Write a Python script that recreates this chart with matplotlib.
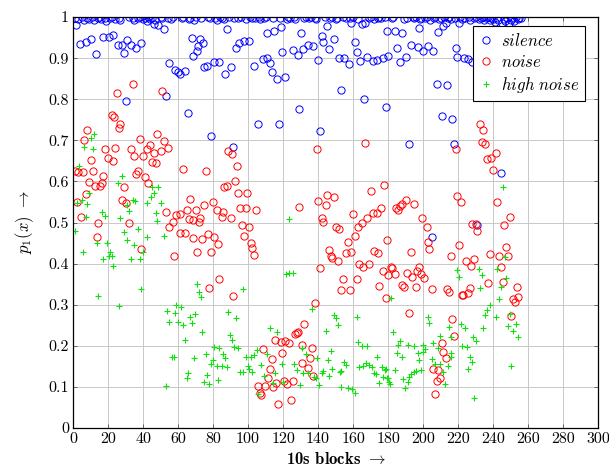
import numpy as np
import matplotlib
matplotlib.use("Agg")
import matplotlib.pyplot as plt

plt.rcParams['font.family'] = 'serif'
plt.rcParams['font.serif'] = ['cmr10', 'DejaVu Serif']
plt.rcParams['mathtext.fontset'] = 'cm'
plt.rcParams['axes.unicode_minus'] = False

# silence: points sitting on the top row (p ~ 1)
silence_top = [(1, 0.998), (3, 0.995), (5, 1.0), (6, 0.993), (8, 0.999), (9, 0.996), (11, 1.0), (12, 0.992),
               (14, 0.998), (15, 1.0), (16, 0.995), (18, 0.999), (19, 0.99), (21, 0.997), (22, 1.0), (24, 0.996),
               (26, 0.999), (27, 0.993), (32, 1.0), (34, 0.997), (35, 0.992), (37, 0.999), (38, 1.0), (40, 0.995),
               (41, 0.998), (42, 0.99), (43, 1.0), (44, 0.996), (45, 0.999), (47, 0.993), (50, 1.0), (51, 0.997),
               (54, 0.999), (56, 0.995), (57, 1.0), (62, 0.998), (63, 1.0), (66, 0.996), (67, 0.999), (69, 0.993),
               (70, 1.0), (73, 0.998), (77, 1.0), (78, 0.997), (81, 0.999), (82, 0.994), (84, 1.0), (85, 0.998),
               (86, 0.995), (89, 1.0), (92, 0.998), (94, 0.999), (96, 1.0), (99, 0.996), (101, 1.0), (102, 0.997),
               (104, 0.999), (106, 1.0), (107, 0.996), (109, 0.999), (110, 1.0), (114, 0.997), (118, 0.999),
               (122, 0.996), (123, 1.0), (124, 0.998), (126, 1.0), (127, 0.995), (132, 0.999), (133, 1.0),
               (135, 0.997), (136, 1.0), (138, 0.999), (139, 0.995), (144, 1.0), (147, 0.998), (148, 1.0),
               (150, 0.996), (151, 0.999), (154, 1.0), (156, 0.997), (158, 0.999), (160, 1.0), (163, 0.995),
               (169, 0.998), (170, 1.0), (172, 0.996), (174, 0.999), (175, 1.0), (176, 0.997), (178, 1.0),
               (182, 0.998), (183, 1.0), (189, 0.996), (191, 0.999), (194, 1.0), (195, 0.997), (196, 1.0),
               (198, 0.995), (199, 0.999), (201, 0.998), (202, 1.0), (204, 0.993), (206, 0.999), (207, 1.0),
               (209, 0.996), (210, 0.999), (212, 1.0), (214, 0.997), (215, 1.0), (216, 0.995), (218, 0.999),
               (221, 1.0), (222, 0.996), (224, 0.998), (226, 1.0), (227, 0.993), (229, 0.999), (230, 1.0),
               (232, 0.996), (233, 0.999), (234, 1.0), (235, 0.994), (236, 0.998), (237, 1.0), (238, 0.992),
               (239, 0.999), (240, 0.996), (241, 0.988), (242, 0.999), (243, 0.993), (245, 0.986), (246, 0.996),
               (247, 0.99), (248, 0.999), (249, 0.985), (250, 0.994), (251, 0.998), (252, 0.99), (253, 1.0),
               (254, 0.996), (255, 0.999), (256, 0.997)]

# silence: points below the top row
silence_low = [(1.7, 0.98), (4, 0.934), (7.4, 0.939), (10.3, 0.946), (13, 0.91), (17, 0.951), (20.6, 0.951),
               (23, 0.956), (25.7, 0.932), (28, 0.932), (29, 0.912), (31, 0.944), (33, 0.932), (36, 0.925),
               (39, 0.937), (46, 0.983), (48.6, 0.98), (52, 0.971), (55, 0.888), (58, 0.871), (60, 0.866),
               (61, 0.861), (64, 0.869), (30, 0.796), (53, 0.808),
               (88, 0.971), (119, 0.976), (111, 0.961), (115, 0.966), (68, 0.949), (72.6, 0.946), (74, 0.937),
               (71.4, 0.93), (71, 0.917), (68.6, 0.905), (93, 0.925), (95, 0.937), (97.7, 0.942), (100.6, 0.942),
               (119.4, 0.915), (75, 0.878), (76.6, 0.881), (80.6, 0.89), (83.4, 0.89), (87, 0.861), (90, 0.878),
               (103.4, 0.881), (108.6, 0.898), (111, 0.9), (112.6, 0.888), (113.7, 0.866), (116.6, 0.849),
               (121, 0.855), (65.7, 0.766), (79, 0.71), (105.7, 0.74), (117.7, 0.74), (91.4, 0.684),
               (145, 0.978), (159, 0.985), (165, 0.983), (167, 0.985), (179.4, 0.966), (130, 0.961), (142, 0.954),
               (143, 0.939), (149, 0.946), (161, 0.939), (134, 0.932), (137, 0.93), (131.4, 0.922), (125.7, 0.92),
               (128.6, 0.908), (146, 0.922), (162, 0.915), (140, 0.895), (152, 0.9), (155, 0.9), (157.7, 0.886),
               (164, 0.893), (168, 0.903), (171.4, 0.893), (173.7, 0.895), (177, 0.9), (180, 0.905), (153, 0.822),
               (166, 0.8), (129, 0.776), (179, 0.781), (141, 0.723),
               (184, 0.966), (188, 0.961), (197.7, 0.973), (208.6, 0.963), (211.4, 0.978), (213, 0.985),
               (220.6, 0.985), (193, 0.932), (197, 0.927), (200, 0.917), (203, 0.929), (205.7, 0.917), (185, 0.925),
               (190, 0.903), (186.9, 0.89), (219, 0.925), (219.4, 0.903), (223.4, 0.9), (225.7, 0.898), (228, 0.89),
               (208, 0.837), (213.7, 0.835), (211, 0.759), (216.6, 0.752), (192, 0.691), (217.7, 0.691),
               (205, 0.465), (231, 0.494), (244.6, 0.62)]

noise = [(34, 0.837), (25, 0.815), (51, 0.82), (22, 0.762), (23.4, 0.757), (27, 0.74), (26, 0.73), (8, 0.725),
         (6, 0.70), (38, 0.703), (48, 0.715), (52, 0.698), (44, 0.689), (42, 0.679), (54, 0.681), (18, 0.68),
         (24, 0.681), (33, 0.679), (35, 0.662), (40, 0.662), (46, 0.669), (50, 0.674), (10, 0.652), (20, 0.657),
         (23, 0.65), (45, 0.647), (47.5, 0.645), (1, 0.625), (3, 0.622), (5.5, 0.622), (11.5, 0.625), (17, 0.613),
         (37, 0.625), (36, 0.618), (41, 0.611), (9, 0.598), (12.5, 0.59), (15.4, 0.588), (16.5, 0.596), (43, 0.596),
         (29, 0.586), (7.5, 0.569), (2.4, 0.55), (28, 0.555), (30, 0.547), (53, 0.525), (4.4, 0.513), (59, 0.518),
         (61, 0.52), (14, 0.499), (32, 0.499), (55, 0.489), (57, 0.501), (13.5, 0.465), (39, 0.436), (57.7, 0.418),
         (61, 0.474),
         (88.6, 0.674), (91, 0.667), (93.7, 0.637), (63, 0.63), (76, 0.625), (92.6, 0.601), (88, 0.589),
         (86.4, 0.586), (94.3, 0.572), (99.4, 0.572), (67, 0.557), (80, 0.55), (75, 0.543), (65, 0.53), (70, 0.53),
         (82, 0.53), (85.7, 0.525), (95.4, 0.535), (99, 0.535), (104.6, 0.53), (66, 0.508), (72.6, 0.511),
         (85, 0.513), (90, 0.511), (68.6, 0.506), (72, 0.501), (96.6, 0.494), (100.6, 0.489), (97.7, 0.467),
         (64, 0.474), (68.6, 0.462), (73.7, 0.46), (77, 0.472), (80.6, 0.465), (83, 0.448), (101.7, 0.45),
         (102.3, 0.438), (103.4, 0.421), (71, 0.428), (79, 0.428), (83.4, 0.363), (77.7, 0.341), (91.4, 0.321),
         (108.6, 0.192), (113.7, 0.168), (112.6, 0.144), (115.4, 0.214), (119, 0.209), (121, 0.212),
         (119.4, 0.182), (105.7, 0.102), (107.4, 0.08), (106.9, 0.085), (109.7, 0.102), (111.4, 0.122),
         (114.3, 0.1), (116, 0.11), (117, 0.058), (120.5, 0.115),
         (139.4, 0.679), (167, 0.693), (177.7, 0.591), (170, 0.577), (145, 0.567), (149, 0.562), (140, 0.552),
         (144.6, 0.543), (129, 0.538), (160, 0.521), (171.4, 0.523), (173.7, 0.523), (176, 0.535), (168, 0.511),
         (142, 0.511), (143, 0.501), (150, 0.489), (152, 0.484), (163, 0.489), (165, 0.499), (161, 0.467),
         (157, 0.453), (179.4, 0.457), (146, 0.433), (147.4, 0.418), (148, 0.414), (151.4, 0.406), (156, 0.426),
         (159, 0.428), (172, 0.431), (174, 0.426), (141, 0.389), (163.4, 0.399), (165.7, 0.392), (169, 0.399),
         (177, 0.382), (180, 0.372), (154, 0.363), (162, 0.363), (175, 0.345), (153, 0.336), (158, 0.336),
         (179, 0.316), (138, 0.304), (132, 0.253), (127, 0.229), (128, 0.231), (128.6, 0.233), (123.4, 0.207),
         (131, 0.202), (136.6, 0.195), (135.4, 0.17), (131, 0.158), (134, 0.146), (137, 0.127), (122, 0.107),
         (125.7, 0.114), (124.6, 0.068),
         (219, 0.679), (232.6, 0.74), (234, 0.725), (233.7, 0.696), (235.4, 0.691), (236.6, 0.654),
         (239, 0.657), (240, 0.628), (219.4, 0.564), (221.7, 0.55), (190, 0.555), (188, 0.545), (186.9, 0.54),
         (195, 0.545), (184.6, 0.535), (185.7, 0.53), (199.4, 0.511), (202, 0.489), (230, 0.496), (230.9, 0.479),
         (228, 0.496), (203, 0.453), (203.4, 0.436), (220.6, 0.445), (193, 0.428), (216, 0.418), (238.3, 0.423),
         (224.6, 0.406), (229, 0.411), (227.4, 0.394), (181.7, 0.392), (182.3, 0.389), (197.7, 0.392),
         (196.6, 0.382), (184, 0.375), (190.9, 0.377), (198.9, 0.375), (193.7, 0.367), (200.6, 0.365),
         (237, 0.353), (188, 0.348), (189, 0.343), (196, 0.343), (205, 0.338), (213.7, 0.338), (214.9, 0.331),
         (222, 0.324), (222.6, 0.324), (225.7, 0.328), (226.9, 0.341), (192, 0.28), (216.6, 0.265),
         (217.7, 0.224), (211, 0.207), (211.4, 0.185), (213, 0.17), (205.7, 0.144), (208.6, 0.141),
         (209.7, 0.122), (208, 0.114), (206.9, 0.083),
         (241.7, 0.669), (242.3, 0.55), (249.7, 0.513), (246.3, 0.494), (247.4, 0.44), (243.4, 0.418),
         (248.6, 0.418), (244.6, 0.392), (245.7, 0.355), (253.7, 0.343), (254.3, 0.319), (251.4, 0.314),
         (252.6, 0.307), (250.3, 0.272)]

high_noise = [(12, 0.715), (10, 0.706), (6, 0.684), (11.4, 0.679), (3.4, 0.637), (28, 0.613), (25.7, 0.596),
              (48.6, 0.586), (45, 0.586), (46, 0.572), (44.6, 0.562), (9, 0.572), (5, 0.555), (34, 0.555),
              (35.4, 0.552), (42, 0.547), (50, 0.547), (31, 0.543), (2.4, 0.547), (8, 0.545), (32, 0.528),
              (16.5, 0.526), (47.5, 0.523), (18, 0.516), (27, 0.511), (7.4, 0.513), (48, 0.504), (1, 0.48),
              (29, 0.477), (37, 0.484), (42, 0.465), (52, 0.467), (13.7, 0.45), (19.4, 0.45), (31, 0.457),
              (35, 0.445), (5.7, 0.428), (21, 0.428), (20.6, 0.418), (22, 0.418), (17, 0.411), (33, 0.411),
              (38, 0.411), (40, 0.428), (23, 0.394), (39, 0.338), (14.3, 0.321), (26, 0.297), (53.7, 0.285),
              (59, 0.299), (58.5, 0.28), (55, 0.258), (60, 0.258), (56.6, 0.173), (57.5, 0.173), (53, 0.102),
              (71, 0.35), (72, 0.331), (73, 0.319), (97, 0.338), (61.7, 0.294), (67, 0.27), (69.7, 0.277),
              (88.6, 0.282), (93, 0.268), (63, 0.25), (68, 0.255), (73.7, 0.234), (64, 0.214), (89.7, 0.226),
              (91, 0.214), (112.6, 0.243), (116.6, 0.234), (69, 0.17), (76, 0.18), (80.6, 0.197), (83.4, 0.195),
              (85.7, 0.18), (87, 0.17), (92, 0.197), (94.3, 0.195), (99, 0.173), (101.7, 0.173), (103.4, 0.178),
              (105, 0.19), (111, 0.18), (80, 0.165), (79, 0.156), (82, 0.151), (85, 0.151), (88, 0.148),
              (100, 0.151), (100.6, 0.144), (102.3, 0.136), (107.4, 0.153), (115.4, 0.134), (119.4, 0.156),
              (95.4, 0.136), (97, 0.136), (65.7, 0.134), (65, 0.122), (76.6, 0.129), (75, 0.112), (77.7, 0.107),
              (83, 0.117), (109, 0.127), (114.3, 0.11), (105.7, 0.083),
              (123.4, 0.508), (121.7, 0.375), (123.4, 0.377), (125.7, 0.377), (136.6, 0.29), (149, 0.275),
              (150, 0.268), (151.4, 0.25), (162, 0.27), (144.6, 0.236), (163, 0.209), (165, 0.2), (168, 0.2),
              (147.4, 0.187), (173.7, 0.173), (131, 0.195), (133, 0.18), (139.4, 0.17), (145.7, 0.165),
              (155, 0.161), (156, 0.153), (153, 0.139), (163.4, 0.148), (165.7, 0.151), (167.4, 0.158),
              (169, 0.153), (171, 0.148), (176.6, 0.148), (178.3, 0.141), (126.3, 0.156), (128, 0.141),
              (131.4, 0.134), (134, 0.134), (137.7, 0.124), (142.3, 0.134), (143, 0.139), (148, 0.144),
              (152.6, 0.136), (146.3, 0.127), (172, 0.134), (173, 0.131), (177, 0.124), (179.4, 0.122),
              (120, 0.112), (129.7, 0.105), (140.6, 0.105), (139, 0.122), (153, 0.1), (157, 0.097),
              (159.4, 0.095), (161, 0.085), (175, 0.11),
              (219.4, 0.384), (220.6, 0.367), (232, 0.387), (233.7, 0.372), (232.6, 0.341), (181.7, 0.316),
              (238.3, 0.299), (236.6, 0.287), (235.4, 0.275), (203, 0.27), (203.4, 0.255), (214.9, 0.246),
              (221.7, 0.253), (224, 0.243), (234, 0.243), (182.9, 0.234), (209.7, 0.224), (216, 0.222),
              (228.6, 0.221), (230, 0.212), (186.9, 0.212), (185.7, 0.202), (191.4, 0.202), (194.9, 0.2),
              (200, 0.202), (201, 0.192), (205.7, 0.207), (208.6, 0.195), (222.3, 0.2), (225, 0.197),
              (185, 0.182), (188, 0.173), (197, 0.182), (200, 0.185), (216, 0.182), (226.9, 0.173),
              (197.7, 0.165), (205, 0.168), (215.7, 0.173), (206.9, 0.156), (209.7, 0.156), (214.3, 0.151),
              (228, 0.16), (178.9, 0.144), (184, 0.141), (198.9, 0.141), (211.4, 0.136), (225.7, 0.144),
              (193, 0.131), (194.9, 0.136), (196, 0.139), (192, 0.124), (180, 0.122), (180.6, 0.112),
              (181.1, 0.107), (188.6, 0.119), (191.4, 0.112), (212.6, 0.107), (189.7, 0.097), (229, 0.073),
              (245.7, 0.586), (242.3, 0.387), (246.9, 0.416), (247.4, 0.365), (244.6, 0.343), (243.4, 0.314),
              (241.7, 0.27), (249.7, 0.277), (248.6, 0.248), (253.1, 0.253), (251.4, 0.236), (254.3, 0.221),
              (250.3, 0.151)]

x_ticks = list(range(0, 301, 20))
y_ticks = [0, 0.1, 0.2, 0.3, 0.4, 0.5, 0.6, 0.7, 0.8, 0.9, 1]
y_tick_labels = ['0', '0.1', '0.2', '0.3', '0.4', '0.5', '0.6', '0.7', '0.8', '0.9', '1']

silence = np.array(silence_top + silence_low)
noise = np.array(noise)
high_noise = np.array(high_noise)

fig = plt.figure(figsize=(6.09, 4.75), dpi=100)
ax = fig.add_axes([0.12, 0.099, 0.862, 0.865])

ax.plot(silence[:, 0], silence[:, 1], 'o', ls='none', mfc='none', mec='#0000ff',
        ms=5.2, mew=0.7, label='$silence$')
ax.plot(noise[:, 0], noise[:, 1], 'o', ls='none', mfc='none', mec='#ff0000',
        ms=5.2, mew=0.7, label='$noise$')
ax.plot(high_noise[:, 0], high_noise[:, 1], '+', ls='none', color='#10e010',
        ms=5, mew=0.8, label='$high\\ noise$')

ax.set_xlim(0, 300)
ax.set_ylim(0, 1)
ax.set_xticks(x_ticks)
ax.set_xticklabels([str(t) for t in x_ticks])
ax.set_yticks(y_ticks)
ax.set_yticklabels(y_tick_labels)
ax.tick_params(direction='in', length=3, width=0.6, top=True, right=True,
               labelsize=11.5, pad=3, color='#555555')
ax.grid(True, color='#c8c8c8', lw=0.7)
ax.set_axisbelow(True)
for s in ax.spines.values():
    s.set_linewidth(0.9)

ax.set_xlabel(r'10s blocks $\rightarrow$', family='cmb10', fontsize=12, labelpad=4)
ax.set_ylabel(r'$p_1(x)\ \rightarrow$', fontsize=12, labelpad=9)

leg = ax.legend(loc='upper right', bbox_to_anchor=(0.975, 0.978), fontsize=12,
                fancybox=False, framealpha=1, edgecolor='black', handlelength=0.8,
                handletextpad=0.5, borderpad=0.35, labelspacing=0.3, borderaxespad=0)
leg.get_frame().set_linewidth(0.8)

fig.savefig('out.png', dpi=100)
